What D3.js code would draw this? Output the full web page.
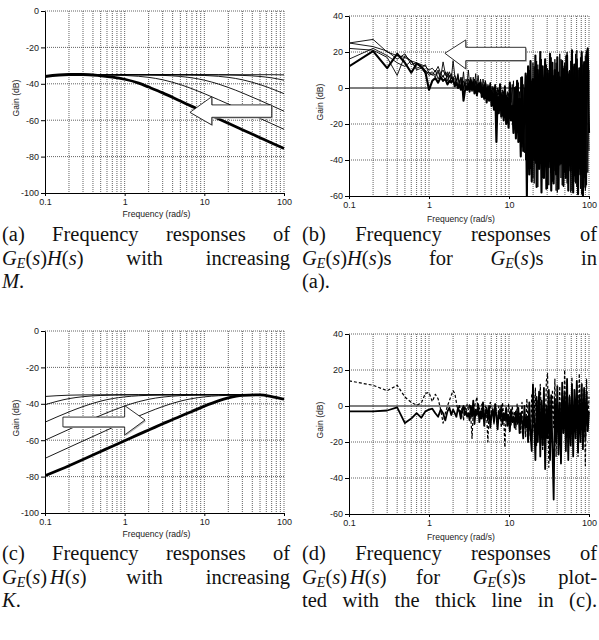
<!DOCTYPE html>
<html>
<head>
<meta charset="utf-8">
<script src="https://cdn.jsdelivr.net/npm/d3@7.9.0/dist/d3.min.js"></script>
<style>
  body { margin: 0; background: #fff; }
  svg { display: block; }
</style>
</head>
<body>
<svg id="fig" width="599" height="640"></svg>
<script>
// ---- smooth responses, panels (a) and (c) ----
const freqSmooth = [0.1, 0.2, 0.3, 0.5, 0.7, 1, 1.5, 2, 3, 5, 7, 10, 15, 20, 30, 50, 70, 100];

const aThick = [-36, -34.9, -34.9, -35.6, -36.3, -37.5, -39.6, -41.8, -45, -49.5, -52.4, -55.6, -59.2, -61.7, -65.2, -69.6, -72.5, -75.5];
const aThin = [
  [-36, -34.9, -34.9, -35, -35, -35, -35, -35, -35, -35, -35, -35, -35, -35, -35, -35, -35, -35.1],
  [-36, -34.9, -34.9, -35, -35, -35, -35, -35, -35, -35, -35, -35.04, -35.1, -35.17, -35.38, -35.97, -36.73, -38.01],
  [-36, -34.9, -34.9, -35, -35, -35, -35, -35, -35.04, -35.11, -35.21, -35.41, -35.88, -36.46, -37.79, -40.44, -42.71, -45.41],
  [-36, -34.9, -34.9, -35, -35, -35.04, -35.1, -35.17, -35.37, -35.97, -36.73, -38.01, -40.12, -41.99, -45, -49.15, -51.99, -55.04],
  [-36, -34.9, -34.9, -35.11, -35.21, -35.41, -35.88, -36.46, -37.79, -40.44, -42.71, -45.41, -48.71, -51.13, -54.59, -59, -61.91, -65]
];

const cThick = [-79.5, -74, -70.6, -66.2, -63.3, -60.3, -56.8, -54.4, -51, -46.8, -44.2, -41.3, -38.4, -36.8, -35.4, -35.1, -36, -37.5];
const cThin = [
  [-69.97, -63.95, -60.43, -56.02, -53.13, -50.1, -46.74, -44.46, -41.52, -38.53, -37.15, -36.19, -35.57, -35.33, -35.15, -35.1, -36, -37.5],
  [-60.02, -54.04, -50.59, -46.36, -43.73, -41.2, -38.82, -37.53, -36.31, -35.52, -35.27, -35.14, -35.06, -35.03, -35.01, -35.1, -36, -37.5],
  [-50.1, -44.46, -41.52, -38.53, -37.15, -36.19, -35.57, -35.33, -35.15, -35.05, -35.03, -35.01, -35, -35, -35, -35.1, -36, -37.5],
  [-40.51, -37.15, -36.09, -35.42, -35.22, -35.11, -35.05, -35.03, -35.01, -35, -35, -35, -35, -35, -35, -35.1, -36, -37.5],
  [-35.97, -35.26, -35.12, -35.04, -35.02, -35.01, -35, -35, -35, -35, -35, -35, -35, -35, -35, -35.1, -36, -37.5]
];

// ---- measured (noisy) responses, panels (b) and (d) ----
// FFT bins 0.1 .. 3.0 rad/s, then a thinned log grid 3 .. 100 rad/s
const lowFreq = d3.range(1, 31).map(k => k / 10);
const highFreq = d3.range(1, 101).map(i => 3 * Math.pow(100 / 3, i / 100));

const bThickLow = [12, 20.5, 11, 19, 14, 8.5, 13.5, 12, 9, -1, 4, 5.5, 3, 6, 4, 5, 2, 4, 3, 5, 1, 3, 0, 2, -1, 3, -7, -2, 1, -1];
const bThickHigh = [
  2, -2, 4, -1, 3, -3, 1, -4, 2, -2,
  3, -5, 0, -6, 2, -8, -1, -7, 1, -10,
  -3, -12, 0, -30, -5, -14, 2, -16, -4, -18,
  1, -20, -6, -22, 3, -18, -10, -25, 0, -28,
  4, -30, -6, -38, 6, -35, -12, 8, -60, 12,
  -48, 15, -52, 5, -40, 18, -55, 10, -45, 20,
  -58, 12, -50, 16, -56, 8, -44, 19, -57, 14,
  -53, 10, -48, 17, -56, 6, -42, 15, -54, 12,
  -50, 18, -57, 9, -46, 21, -58, 13, -52, 16,
  -59, 11, -48, 20, -60, 14, -55, 19, 22, -25
];
const bThinLow = [
  [25, 27, 20, 18, 17, 15, 14, 13, 12, 10, 11, 9, 12, 8, 10, 7, 9, 6, 8, 5, 7, 4, 6, 3, 5, 2, 4, 1, 3, 2],
  [25, 23, 20.5, 16, 19, 13, 14, 11, 13, 8, 9, 7, 10, 6, 14.5, 8, 6, 9, 5, 15, 7, 4, 8, 3, 6, 2, 9, 1, 5, 3],
  [16, 22, 18, 14, 12, 15, 11, 12, 10, 7, 8, 6, 9, 5, 7, 4, 8, 3, 6, 4, 2, 5, 1, 4, 0, 3, -1, 2, 0, 1],
  [22, 21, 17, 7, 18, 15, 10, 11, 8, 9, 7, 10, 5, 8, 6, 9, 4, 7, 3, 6, 5, 2, 7, 1, 4, 6, 0, 3, 2, -1]
];
const bThinHigh = [
  [3, 0, 5, 1, 6, -1, 4, 2, 7, 0, 3, -2, 5, 1, 4, -3, 2, 0, 3, -4, 1, -1, 2, -5, 0, -2, 1, -6, -1, -3, 0, -7, -2, -4, -5,
   -8, 2, -12, 0, -15, 3, -20, -2, -26, 5,
   -30, 0, -40, 7, -35, 10, -45, 4, -50, 12,
   -42, 15, -55, 8, -38, 16, -50, 6, -44, 13,
   -56, 10, -40, 17, -52, 7, -46, 14, -58, 9,
   -43, 16, -54, 11, -47, 18, -53, 8, -41, 15,
   -57, 12, -49, 19, -55, 10, -45, 17, -59, 13,
   -50, 18, -54, 15, -35],
  [10, 2, 6, -1, 4, 1, 8, -2, 3, 0, 5, -3, 2, -1, 4, -4, 1, -2, 3, -5, 0, -3, 2, -6, -1, -4, 1, -8, -2, -5, 0, -9, -3, -6, -4,
   0, -14, 4, -17, 1, -22, 3, -28, 6, -33,
   2, -36, 8, -44, 11, -39, 5, -48, 14, -53,
   9, -47, 13, -41, 17, -56, 7, -49, 15, -43,
   11, -54, 18, -45, 8, -51, 16, -57, 12, -42,
   19, -50, 9, -55, 14, -44, 20, -52, 10, -58,
   17, -46, 13, -53, 21, -48, 11, -56, 18, -40,
   15, -57, 20, -47, 10],
  [5, 1, 3, -2, 2, 0, 4, -3, 1, -1, 2, -4, 0, -2, 1, -6, -1, -3, 0, -7, -2, -5, -1, -9, -3, -6, -2, -10, -4, -8, -3, -12, -5, -9, -6],
  [1, 4, -1, 3, 0, 5, -2, 2, 1, 3, -3, 1, -1, 2, -4, 0, -2, 1, -5, -1, -3, 0, -6, -2, -4, -1, -7, -3, -5, -2, -8, -4, -6, -3, -9]
];

const dSolidLow = [-3, -3, -2.5, -0.8, -9.5, -7, -4, -6.5, -3, -2, -1.5, -4, -6, -2, -4, -8, -3, -1, -5, -2, -4, -6, -1, -3, -7, -2, 0, -5, -3, -6];
const dSolidHigh = [
  -4, -8, 0, -6, 3, -10, -2, -5, 1, -9,
  -3, -7, 2, -11, -4, -1, -8, 0, -12, -5,
  -2, -9, 1, -6, -13, -3, -7, 0, -10, -4,
  -8, -1, -11, -5, -14, -2, -9, -6, -12, -3,
  -10, -1, -15, -4, -8, -18, 0, -12, -6, -20,
  2, -16, -25, 12, -8, -30, 5, -20, 8, -28,
  3, -22, 10, -35, 0, -18, 9, -30, 6, -24,
  -52, 4, -20, 11, -27, 2, -32, 13, -15, 7,
  -25, 15, -30, 5, -22, 12, -28, 9, -18, 14,
  -26, 6, -20, 12, -24, 10, -18, 8, -14, -3
];
const dDashLow = [14, 11.5, 8.5, 11.5, 5, 2, 0.5, 1.5, 7, 7.5, 2.5, 6.5, 4, -2, -9.5, -4, 0, 3, 6, 8.5, 7, 2, -3, 1, -5, -1, -8, 0, -3, 1];
const dDashHigh = [
  -2, 1, -6, -18, -3, 0, 2, 5, -4, -1,
  -7, 1, -3, -9, 0, -5, -20, -2, 2, -6,
  -1, -10, 1, -4, -8, 0, -3, -12, 2, -6,
  -23, -2, -9, 1, -5, -11, 0, -7, -3, -13,
  1, -8, -4, -15, 2, -10, -6, -17, 4, -12,
  -3, -19, 7, -14, -5, 10, -22, 3, -16, 12,
  -8, -25, 6, -18, 14, 18, -34, 5, -20, 9,
  -12, 15, -28, 4, -17, 11, -24, 8, -15, 20,
  -10, 14, -26, 6, -19, 16, -22, 3, -14, 12,
  -28, 18, -8, 13, -20, 9, -33, 15, -12, 5
];

// arrows, in data units: tip, neck (head base) freq, tail freq, shaft and head gains
const arrowA = { tip: [6.6, -55.7], neck: 12.4, tail: 70, shaft: [-51.6, -58.4], head: [-47.1, -62.6] };
const arrowB = { tip: [1.58, 19.3], neck: 2.88, tail: 16.2, shaft: [22.6, 15.2], head: [26.7, 10.6] };
const arrowC = { tip: [1.8, -48.9], neck: 1.0, tail: 0.168, shaft: [-47.3, -52.7], head: [-41, -57.1] };

const xTickValues = [0.1, 1, 10, 100];

const captionA = [["(a)", "Frequency", "responses", "of"], ["$G_E(s)H(s)$", "with", "increasing"], ["$M$."]];
const captionB = [["(b)", "Frequency", "responses", "of"], ["$G_E(s)H(s)$s", "for", "$G_E(s)$s", "in"], ["(a)."]];
const captionC = [["(c)", "Frequency", "responses", "of"], ["$G_E(s)~H(s)$", "with", "increasing"], ["$K$."]];
const captionD = [["(d)", "Frequency", "responses", "of"], ["$G_E(s)~H(s)$", "for", "$G_E(s)$s", "plot-"],
  ["ted", "with", "the", "thick", "line", "in", "(c)."]];

const svg = d3.select('#fig');
const sans = '"Liberation Sans", Arial, Helvetica, sans-serif';
const serif = '"Liberation Serif", "Times New Roman", serif';

function drawPanel(cfg) {
  const x = d3.scaleLog().domain([0.1, 100]).range([cfg.left, cfg.right]);
  const y = d3.scaleLinear().domain(cfg.yDomain).range([cfg.bottom, cfg.top]);
  const g = svg.append('g');

  svg.append('clipPath').attr('id', 'clip-' + cfg.id)
    .append('rect')
    .attr('x', cfg.left).attr('y', cfg.top - 2)
    .attr('width', cfg.right - cfg.left + 2).attr('height', cfg.bottom - cfg.top + 2);

  const grid = g.append('g')
    .attr('stroke', '#3a3a3a')
    .attr('stroke-width', 0.8)
    .attr('stroke-dasharray', '1,1');
  grid.selectAll('line.v')
    .data(x.ticks().filter(f => f > 0.1))
    .join('line')
    .attr('class', 'v')
    .attr('x1', d => x(d)).attr('x2', d => x(d))
    .attr('y1', cfg.top).attr('y2', cfg.bottom);
  grid.selectAll('line.h')
    .data(y.ticks(5).filter(v => v > cfg.yDomain[0] && !(cfg.zeroLine && v === 0)))
    .join('line')
    .attr('class', 'h')
    .attr('x1', cfg.left).attr('x2', cfg.right)
    .attr('y1', d => y(d)).attr('y2', d => y(d));

  if (cfg.zeroLine) {
    g.append('line')
      .attr('x1', cfg.left).attr('x2', cfg.right)
      .attr('y1', y(0)).attr('y2', y(0))
      .attr('stroke', '#000').attr('stroke-width', 1.2);
  }

  const plot = g.append('g').attr('clip-path', `url(#clip-${cfg.id})`);
  cfg.series.forEach((s) => {
    const line = d3.line()
      .x(d => x(d[0]))
      .y(d => y(d[1]))
      .curve(s.curve || d3.curveLinear);
    plot.append('path')
      .datum(d3.zip(s.freq, s.gain))
      .attr('d', line)
      .attr('fill', 'none')
      .attr('stroke', '#000')
      .attr('stroke-width', s.width)
      .attr('stroke-linejoin', 'round')
      .attr('stroke-dasharray', s.dash || null);
  });

  if (cfg.arrow) {
    const a = cfg.arrow;
    const pts = [
      [x(a.tip[0]), y(a.tip[1])],
      [x(a.neck), y(a.head[0])],
      [x(a.neck), y(a.shaft[0])],
      [x(a.tail), y(a.shaft[0])],
      [x(a.tail), y(a.shaft[1])],
      [x(a.neck), y(a.shaft[1])],
      [x(a.neck), y(a.head[1])]
    ];
    g.append('polygon')
      .attr('points', pts.map(p => p.join(',')).join(' '))
      .attr('transform', 'translate(1.2,1.2)')
      .attr('fill', '#b8b8b8');
    g.append('polygon')
      .attr('points', pts.map(p => p.join(',')).join(' '))
      .attr('fill', '#fff')
      .attr('stroke', '#000')
      .attr('stroke-width', 0.8);
  }

  const yAxis = g.append('g')
    .attr('transform', `translate(${cfg.left},0)`)
    .call(d3.axisLeft(y).ticks(5).tickSize(4).tickSizeOuter(0).tickPadding(2).tickFormat(d => String(d)));
  const xAxis = g.append('g')
    .attr('transform', `translate(0,${cfg.bottom})`)
    .call(d3.axisBottom(x).tickValues(xTickValues).tickSize(3).tickSizeOuter(0).tickPadding(3).tickFormat(d => String(d)));
  [yAxis, xAxis].forEach((ax) => {
    ax.attr('font-family', sans).attr('font-size', 9);
    ax.selectAll('text').attr('fill', '#1a1a1a');
  });

  g.append('text')
    .attr('x', (cfg.left + cfg.right) / 2 - 8)
    .attr('y', cfg.bottom + cfg.xLabelGap)
    .attr('text-anchor', 'middle')
    .attr('font-family', sans).attr('font-size', 8.6).attr('fill', '#1a1a1a')
    .text('Frequency (rad/s)');
  g.append('text')
    .attr('transform', `translate(${cfg.left - 26},${(cfg.top + cfg.bottom) / 2 - 4}) rotate(-90)`)
    .attr('text-anchor', 'middle')
    .attr('font-family', sans).attr('font-size', 8.6).attr('fill', '#1a1a1a')
    .text('Gain (dB)');
}

// one word of a caption; text between $...$ is typeset as math
function addWord(parent, word) {
  const t = parent.append('text')
    .attr('font-family', serif).attr('font-size', 20.5).attr('fill', '#111');
  let math = false, sub = false, extra = 0;
  for (let i = 0; i < word.length; i++) {
    const ch = word[i];
    if (ch === '$') { math = !math; continue; }
    if (math && ch === '_') { sub = true; continue; }
    if (math && ch === '~') { extra += 3; continue; }
    const span = t.append('tspan').text(ch);
    if (math && /[A-Za-z]/.test(ch)) span.attr('font-style', 'italic');
    if (extra) { span.attr('dx', extra); extra = 0; }
    if (sub === true) {
      span.attr('font-size', 14).attr('dy', 3);
      sub = 'reset';
    } else if (sub === 'reset') {
      span.attr('dy', -3);
      sub = false;
    }
  }
  return t;
}

function drawCaption(lines, x0, x1, y0, lineGap, justifyLast) {
  const g = svg.append('g');
  lines.forEach((words, li) => {
    const texts = words.map(w => addWord(g, w));
    const widths = texts.map(t => t.node().getComputedTextLength());
    const total = d3.sum(widths);
    const last = li === lines.length - 1;
    const gap = (words.length > 1 && (!last || justifyLast))
      ? (x1 - x0 - total) / (words.length - 1) : 5;
    let cx = x0;
    texts.forEach((t, i) => {
      t.attr('x', cx).attr('y', y0 + li * lineGap);
      cx += widths[i] + gap;
    });
  });
}

drawPanel({
  id: 'a', left: 45, right: 284, top: 11, bottom: 193, yDomain: [-100, 0], xLabelGap: 24,
  arrow: arrowA,
  series: [
    ...aThin.map(v => ({ freq: freqSmooth, gain: v, width: 0.9, curve: d3.curveMonotoneX })),
    { freq: freqSmooth, gain: aThick, width: 2.8, curve: d3.curveMonotoneX }
  ]
});

drawPanel({
  id: 'b', left: 349, right: 589, top: 16, bottom: 196, yDomain: [-60, 40], xLabelGap: 26, zeroLine: true,
  arrow: arrowB,
  series: [
    ...bThinLow.map((v, i) => ({
      freq: lowFreq.concat(highFreq.slice(0, bThinHigh[i].length)),
      gain: v.concat(bThinHigh[i]), width: 0.9
    })),
    { freq: lowFreq.concat(highFreq), gain: bThickLow.concat(bThickHigh), width: 2.1 }
  ]
});

drawPanel({
  id: 'c', left: 45, right: 284, top: 331, bottom: 513, yDomain: [-100, 0], xLabelGap: 24,
  arrow: arrowC,
  series: [
    ...cThin.map(v => ({ freq: freqSmooth, gain: v, width: 0.9, curve: d3.curveMonotoneX })),
    { freq: freqSmooth, gain: cThick, width: 2.8, curve: d3.curveMonotoneX }
  ]
});

drawPanel({
  id: 'd', left: 349, right: 589, top: 334, bottom: 514, yDomain: [-60, 40], xLabelGap: 26, zeroLine: true,
  series: [
    { freq: lowFreq.concat(highFreq), gain: dDashLow.concat(dDashHigh), width: 1.2, dash: '3,2' },
    { freq: lowFreq.concat(highFreq), gain: dSolidLow.concat(dSolidHigh), width: 1.8 }
  ]
});

drawCaption(captionA, 2, 290, 241, 23.5, false);
drawCaption(captionB, 302, 597, 241, 23.5, false);
drawCaption(captionC, 2, 290, 560, 23.5, false);
drawCaption(captionD, 302, 597, 560, 23.5, true);
</script>
</body>
</html>
